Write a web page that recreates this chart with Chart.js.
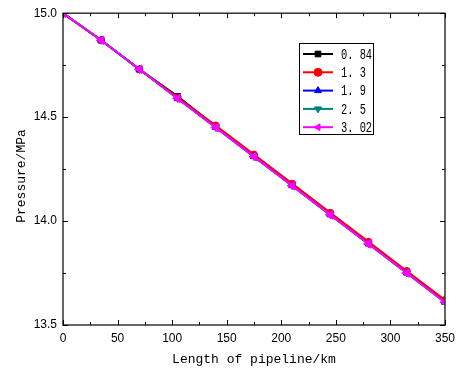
<!DOCTYPE html>
<html>
<head>
<meta charset="utf-8">
<script src="https://cdn.jsdelivr.net/npm/chart.js@4.4.1/dist/chart.umd.min.js"></script>
<style>
  html, body { margin: 0; padding: 0; background: #fff; }
  #wrap { width: 461px; height: 374px; position: relative; }
</style>
</head>
<body>
<div id="wrap"><canvas id="pressure-chart" width="461" height="374"></canvas></div>
<script>
// Pipeline length (km)
const lengths = [0, 35, 70, 105, 140, 175, 210, 245, 280, 315, 350];

// Series labels
const seriesLabels = ['0. 84', '1. 3', '1. 9', '2. 5', '3. 02'];

// Pressure (MPa) for each series
const p084 = [15.0, 14.87, 14.73, 14.60, 14.455, 14.315, 14.175, 14.035, 13.895, 13.755, 13.615];
const p13  = [15.0, 14.87, 14.73, 14.595, 14.46, 14.32, 14.18, 14.04, 13.90, 13.76, 13.62];
const p19  = [15.0, 14.87, 14.73, 14.59, 14.45, 14.31, 14.17, 14.03, 13.89, 13.75, 13.61];
const p25  = [15.0, 14.87, 14.73, 14.59, 14.45, 14.31, 14.17, 14.03, 13.89, 13.75, 13.61];
const p302 = [15.0, 14.87, 14.73, 14.59, 14.45, 14.31, 14.17, 14.03, 13.89, 13.75, 13.61];

// Axis ticks
const xTicks = [0, 50, 100, 150, 200, 250, 300, 350];
const yTicks = [13.5, 14.0, 14.5, 15.0];

const colors = ['#000000', '#ff0000', '#0000ff', '#008080', '#ff00ff'];
const styles = ['rect', 'circle', 'triangle', 'triangle', 'triangle'];
const rotations = [0, 0, 0, 180, 270];
const radii = [4, 3.5, 4, 4, 5];
const seriesData = [p084, p13, p19, p25, p302];

const serifFont = '"Liberation Mono", monospace';

function makeDataset(i) {
    return {
        label: seriesLabels[i],
        data: lengths.map((x, k) => ({ x: x, y: seriesData[i][k] })),
        borderColor: colors[i],
        backgroundColor: colors[i],
        borderWidth: 2,
        pointStyle: styles[i],
        rotation: rotations[i],
        pointRadius: radii[i],
        pointBorderWidth: 1,
        fill: false,
        tension: 0,
        order: 5 - i // last series ends up on top
    };
}

// Frame, inward ticks, axis titles and legend
const framePlugin = {
    id: 'frame',
    afterDraw(chart) {
        const ctx = chart.ctx;
        const a = chart.chartArea;
        const xs = chart.scales.x;
        const ys = chart.scales.y;
        ctx.save();
        ctx.strokeStyle = '#333';
        ctx.lineWidth = 1.5;
        ctx.strokeRect(a.left, a.top, a.right - a.left, a.bottom - a.top);

        ctx.lineWidth = 1;
        ctx.strokeStyle = '#000';
        // x ticks (major + minor)
        for (let v = 0; v <= 350; v += 25) {
            const px = Math.round(xs.getPixelForValue(v)) + 0.5;
            const len = v % 50 === 0 ? 5 : 3;
            ctx.beginPath();
            ctx.moveTo(px, a.bottom); ctx.lineTo(px, a.bottom - len);
            ctx.moveTo(px, a.top); ctx.lineTo(px, a.top + len);
            ctx.stroke();
        }
        // y ticks (major + minor)
        for (let v = 13.5; v <= 15.001; v += 0.25) {
            const py = Math.round(ys.getPixelForValue(v)) + 0.5;
            const major = Math.abs(v * 2 - Math.round(v * 2)) < 1e-6;
            const len = major ? 5 : 3;
            ctx.beginPath();
            ctx.moveTo(a.left, py); ctx.lineTo(a.left + len, py);
            ctx.moveTo(a.right, py); ctx.lineTo(a.right - len, py);
            ctx.stroke();
        }

        // axis titles
        ctx.fillStyle = '#000';
        ctx.font = '13px ' + serifFont;
        ctx.textAlign = 'center';
        ctx.textBaseline = 'middle';
        ctx.fillText('Length of pipeline/km', (a.left + a.right) / 2, 360);
        ctx.save();
        ctx.translate(22, 176);
        ctx.rotate(-Math.PI / 2);
        ctx.fillText('Pressure/MPa', 0, 0);
        ctx.restore();

        // legend
        const lx = 299, ly = 43, lw = 74, lh = 91;
        ctx.strokeStyle = '#000';
        ctx.lineWidth = 1;
        ctx.strokeRect(lx + 0.5, ly + 0.5, lw, lh);
        ctx.textAlign = 'left';
        ctx.font = '14px ' + serifFont;
        chart.data.datasets.forEach((ds, i) => {
            const y = 54 + i * 18.3;
            ctx.strokeStyle = ds.borderColor;
            ctx.lineWidth = 2;
            ctx.beginPath();
            ctx.moveTo(303, y); ctx.lineTo(333, y);
            ctx.stroke();
            ctx.fillStyle = ds.borderColor;
            ctx.lineWidth = 1;
            Chart.helpers.drawPoint(ctx, {
                pointStyle: ds.pointStyle,
                rotation: ds.rotation,
                radius: 4,
                borderWidth: 1
            }, 318, y);
            ctx.fillStyle = '#000';
            ctx.save();
            ctx.translate(341, y + 1);
            ctx.scale(0.74, 1);
            ctx.fillText(ds.label, 0, 0);
            ctx.restore();
        });
        ctx.restore();
    }
};

const chart = new Chart(document.getElementById('pressure-chart').getContext('2d'), {
    type: 'line',
    data: { datasets: [0, 1, 2, 3, 4].map(makeDataset) },
    options: {
        responsive: false,
        animation: false,
        layout: { padding: { top: 8, right: 11, left: 0, bottom: 0 } },
        plugins: { legend: { display: false }, tooltip: { enabled: false } },
        scales: {
            x: {
                type: 'linear',
                min: 0,
                max: 350,
                afterBuildTicks: (s) => { s.ticks = xTicks.map(v => ({ value: v })); },
                afterFit: (s) => { s.height = 49; },
                grid: { display: false, drawTicks: false },
                border: { display: false },
                ticks: {
                    padding: 6,
                    maxRotation: 0,
                    color: '#000',
                    font: { family: '"Liberation Sans", Arial, sans-serif', size: 12 }
                }
            },
            y: {
                min: 13.5,
                max: 15.0,
                afterBuildTicks: (s) => { s.ticks = yTicks.map(v => ({ value: v })); },
                afterFit: (s) => { s.width = 63; },
                grid: { display: false, drawTicks: false },
                border: { display: false },
                ticks: {
                    padding: 6,
                    color: '#000',
                    callback: (v) => Number(v).toFixed(1),
                    font: { family: '"Liberation Sans", Arial, sans-serif', size: 12 }
                }
            }
        }
    },
    plugins: [framePlugin]
});
</script>
</body>
</html>
